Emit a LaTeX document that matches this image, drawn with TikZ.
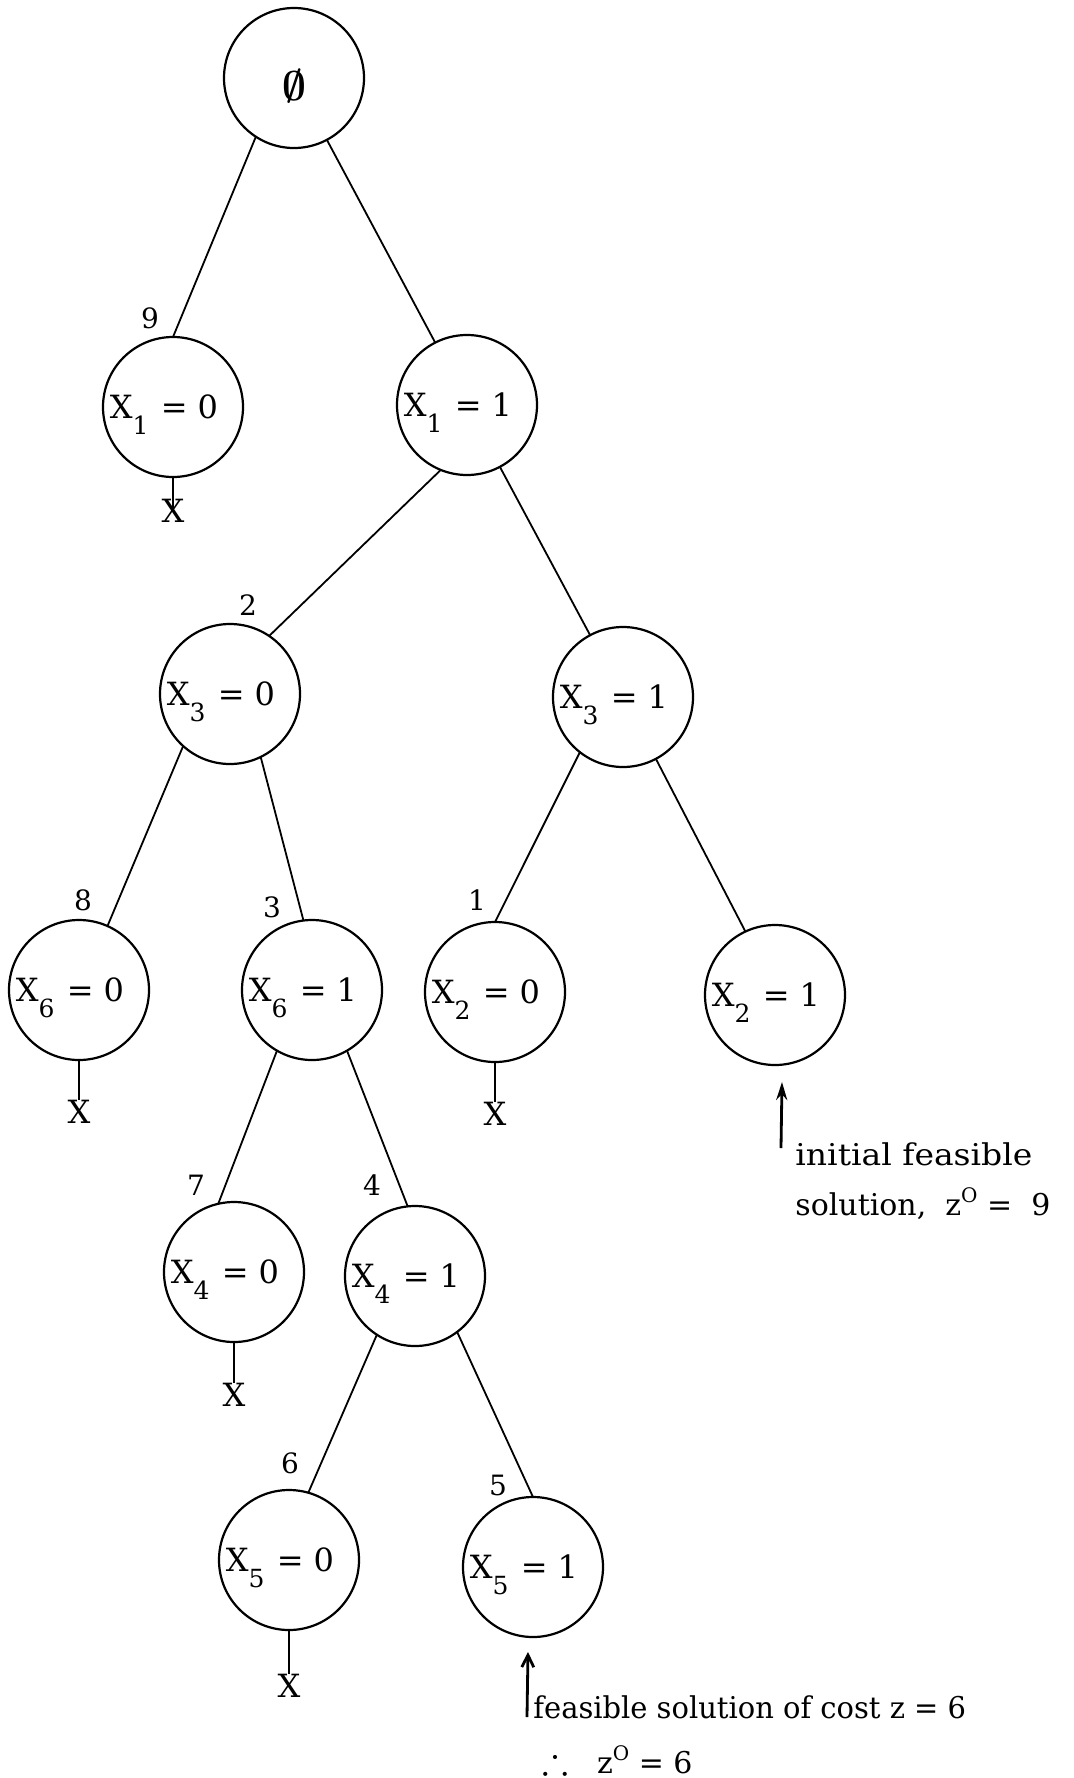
\documentclass[tikz,border=0pt]{standalone}
\usepackage{amssymb}
\usepackage{fontspec}
\setmainfont{DejaVu Serif}
\usetikzlibrary{arrows.meta}
% label "X_i = v" with a large, low subscript that does not widen the line box;
% the trailing space (kept by \null) moves the text a little to the left
\newcommand{\vlab}[2]{X\raisebox{-8pt}[0pt][0pt]{\fontsize{12.5}{12.5}\selectfont #1}\hspace{1pt} = #2\hspace{9pt}\null}
\newcommand{\zsup}{z\raisebox{6.5pt}{\fontsize{10}{10}\selectfont O}}
\begin{document}
\begin{tikzpicture}[x=0.5pt,y=-0.5pt,
  state/.style={circle,draw,line width=1.1pt,minimum size=70pt,inner sep=0pt,outer sep=0pt,
                font=\fontsize{16}{16}\selectfont},
  edge/.style={line width=0.9pt},
  cost/.style={font=\fontsize{14}{14}\selectfont,inner sep=0pt},
  cut/.style={font=\fontsize{16}{16}\selectfont,inner sep=0pt},
  note/.style={font=\fontsize{15}{15}\selectfont,inner sep=0pt,anchor=base west}]
\useasboundingbox (0,0) rectangle (1073,1778);

% search tree states
\node[state] (root) at (294,78) {\raisebox{-11pt}[0pt][0pt]{\fontsize{21}{21}\selectfont\boldmath$\emptyset$}};
\node[state] (x10) at (173,407) {\vlab{1}{0}};
\node[state] (x11) at (467,405) {\vlab{1}{1}};
\node[state] (x30) at (230,694) {\vlab{3}{0}};
\node[state] (x31) at (623,697) {\vlab{3}{1}};
\node[state] (x60) at (79,990) {\vlab{6}{0}};
\node[state] (x61) at (312,990) {\vlab{6}{1}};
\node[state] (x20) at (495,992) {\vlab{2}{0}};
\node[state] (x21) at (775,995) {\vlab{2}{1}};
\node[state] (x40) at (234,1272) {\vlab{4}{0}};
\node[state] (x41) at (415,1276) {\vlab{4}{1}};
\node[state] (x50) at (289,1560) {\vlab{5}{0}};
\node[state] (x51) at (533,1567) {\vlab{5}{1}};

% branches
\draw[edge] (root.237) -- (x10.90);
\draw[edge] (root.298) -- (x11.117);
\draw[edge] (x11.248) -- (x30.56);
\draw[edge] (x11.298) -- (x31.118);
\draw[edge] (x30.228) -- (x60.66);
\draw[edge] (x30.296) -- (x61.97);
\draw[edge] (x31.232) -- (x20.90);
\draw[edge] (x31.298) -- (x21.115);
\draw[edge] (x61.240) -- (x40.103);
\draw[edge] (x61.300) -- (x41.96);
\draw[edge] (x41.237) -- (x50.74);
\draw[edge] (x41.307) -- (x51.90);

% order in which the states were examined
\node[cost] (n9) at (150,318) {9};
\node[cost] (n2) at (248,605) {2};
\node[cost] (n8) at (83,900) {8};
\node[cost] (n3) at (272,907) {3};
\node[cost] (n1) at (477,900) {1};
\node[cost] (n7) at (196,1185) {7};
\node[cost] (n4) at (372,1185) {4};
\node[cost] (n6) at (290,1463) {6};
\node[cost] (n5) at (498,1485) {5};

% fathomed states
\node[cut] (k10) at (173,511) {X};
\node[cut] (k60) at (79,1112) {X};
\node[cut] (k20) at (495,1114) {X};
\node[cut] (k40) at (234,1395) {X};
\node[cut] (k50) at (289,1686) {X};
\draw[edge] (x10.south) -- (k10.center);
\draw[edge] (x60.south) -- (k60.north);
\draw[edge] (x20.south) -- (k20.north);
\draw[edge] (x40.south) -- (k40.north);
\draw[edge] (x50.south) -- (k50.north);

% feasible solutions
\coordinate (a1s) at (781,1148);
\coordinate (a1e) at (782,1082);
\draw[line width=1.4pt,-{Stealth[length=9pt,width=5.5pt]}] (a1s) -- (a1e);
\node[note] (t1) at (795,1165) {\scalebox{1.1}[1]{initial feasible}};
\node[note] (t2) at (795,1215) {solution,\ \ \zsup\ = \ 9};

\coordinate (a2s) at (527,1717);
\coordinate (a2e) at (528,1652);
\draw[line width=1.4pt,-{Straight Barb[length=6pt,width=6pt]}] (a2s) -- (a2e);
\node[note] (t3) at (533,1718) {\scalebox{0.965}[1]{feasible solution of cost z = 6}};
\node[note] (t4) at (542,1773) {\scalebox{1.3}{$\therefore$}\ \ \ \zsup\ = 6};
\end{tikzpicture}
\end{document}
